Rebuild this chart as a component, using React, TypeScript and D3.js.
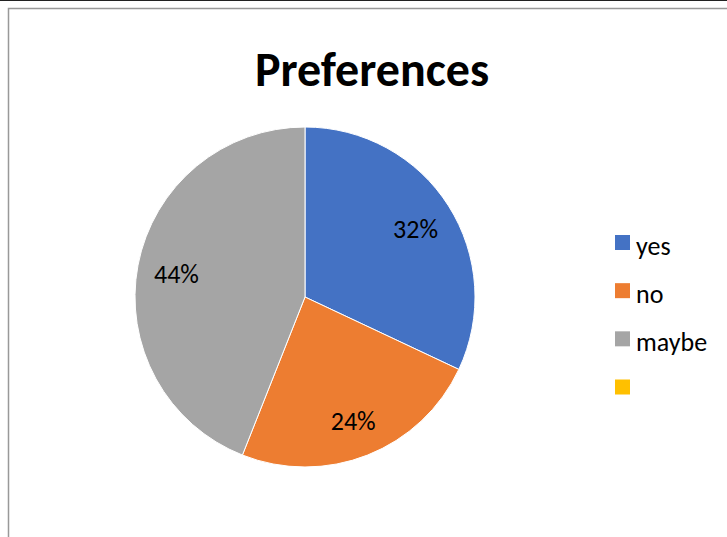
import React from "react";
import * as d3 from "d3";

const categories = ["yes", "no", "maybe", ""];
const values = [32, 24, 44, 0];
const colors = ["#4472C4", "#ED7D31", "#A5A5A5", "#FFC000"];
const title = "Preferences";

const W = 727;
const H = 537;
const cx = 305;
const cy = 297;
const R = 170;

export default function App() {
  const pie = d3.pie<number>().sort(null).value((d) => d);
  const arcs = pie(values);
  const arc = d3.arc<d3.PieArcDatum<number>>().innerRadius(0).outerRadius(R);
  const labelArc = d3.arc<d3.PieArcDatum<number>>().innerRadius(R * 0.77).outerRadius(R * 0.77);
  const total = d3.sum(values);
  const font = "Carlito, Calibri, 'Open Sans', 'Noto Sans', sans-serif";
  const legendY = d3.scalePoint<number>().domain(d3.range(categories.length)).range([242.5, 387]);

  return (
    <svg width={W} height={H} style={{ position: "absolute", left: 0, top: 0 }} fontFamily={font}>
      <rect x={0} y={0} width={W} height={H} fill="#fff" />
      <line x1={0} x2={W} y1={0.5} y2={0.5} stroke="#222" strokeWidth={1} />
      <rect x={8.5} y={8.5} width={W + 10} height={H + 10} fill="none" stroke="#999" strokeWidth={1.5} />
      <text x={372} y={86} textAnchor="middle" fontSize={48} fontWeight="bold" fill="#000">{title}</text>
      <g transform={`translate(${cx},${cy})`}>
        {arcs.map((a, i) => (
          a.value > 0 ? <path key={i} d={arc(a) || ""} fill={colors[i]} stroke="#fff" strokeWidth={1} /> : null
        ))}
        {arcs.map((a, i) => {
          if (a.value <= 0) return null;
          const [x, y] = labelArc.centroid(a);
          return (
            <text key={"l" + i} x={x} y={y + 11} textAnchor="middle" fontSize={26} fill="#000">
              {Math.round((a.value / total) * 100) + "%"}
            </text>
          );
        })}
      </g>
      {categories.map((c, i) => (
        <g key={"lg" + i} transform={`translate(615,${legendY(i)})`}>
          <rect x={0} y={-7.5} width={15} height={15} fill={colors[i]} />
          <text x={21} y={12.5} fontSize={26} fill="#000">{c}</text>
        </g>
      ))}
    </svg>
  );
}
